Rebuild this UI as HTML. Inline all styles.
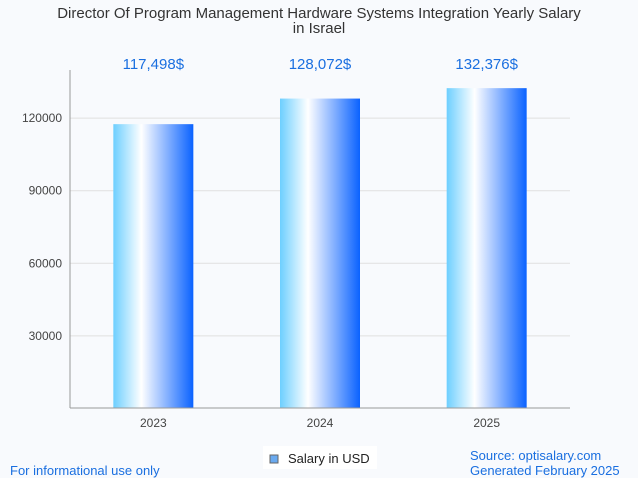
<!DOCTYPE html>
<html><head><meta charset="utf-8"><style>
body{margin:0;background:#f8fafd;font-family:"Liberation Sans",sans-serif}
</style></head><body>
<svg width="638" height="478" xmlns="http://www.w3.org/2000/svg" style="display:block">
<defs><linearGradient id="g" x1="0" x2="1" y1="0" y2="0">
<stop offset="0" stop-color="#6dcfff"/><stop offset="0.35" stop-color="#ffffff"/><stop offset="1" stop-color="#0a62ff"/>
</linearGradient></defs>
<rect width="638" height="478" fill="#f8fafd"/>
<text x="319" y="18" text-anchor="middle" font-size="15" fill="#333">Director Of Program Management Hardware Systems Integration Yearly Salary</text>
<text x="319" y="33" text-anchor="middle" font-size="15" fill="#333">in Israel</text>
<g id="grid"></g><g id="bars"></g>
<line x1="70" y1="70" x2="70" y2="408" stroke="#999"/>
<line x1="70" y1="408" x2="570" y2="408" stroke="#999"/>
<rect x="263" y="446" width="114" height="23" fill="#fff"/>
<rect x="270" y="455" width="8" height="8" fill="#6aaaf0" stroke="#666"/>
<text x="288" y="463" font-size="13" fill="#222">Salary in USD</text>
<text x="10" y="475" font-size="13" fill="#1a6fe0">For informational use only</text>
<text x="470" y="460" font-size="13" fill="#1a6fe0">Source: optisalary.com</text>
<text x="470" y="475" font-size="13" fill="#1a6fe0">Generated February 2025</text>
</svg>
<script>
const categories=["2023","2024","2025"];
const values=[117498,128072,132376];
const labels=["117,498$","128,072$","132,376$"];
const ticks=[30000,60000,90000,120000];
const NS="http://www.w3.org/2000/svg";
const y=v=>408.5-v*72.6/30000;
const band=500/categories.length;
const x=i=>70+band*(i+0.5);
function mk(t,a,p){const e=document.createElementNS(NS,t);for(const k in a)e.setAttribute(k,a[k]);p.appendChild(e);return e;}
const grid=document.getElementById('grid'),bars=document.getElementById('bars');
ticks.forEach(t=>{
 const l=mk('line',{x1:70,x2:570,y1:y(t),y2:y(t),stroke:'#e0e0e0'},grid);
 
 
 const tx=mk('text',{x:62,y:y(t)+4,'text-anchor':'end','font-size':12,fill:'#444'},grid);tx.textContent=t;
 
 
});
categories.forEach((c,i)=>{
 const r=mk('rect',{x:x(i)-40,y:y(values[i]),width:80,height:408-y(values[i]),fill:'url(#g)'},bars);
 
 
 const v=mk('text',{x:x(i),y:69,'text-anchor':'middle','font-size':15,fill:'#1a6fe0'},bars);v.textContent=labels[i];
 
 
 const xt=mk('text',{x:x(i),y:427,'text-anchor':'middle','font-size':12,fill:'#444'},bars);xt.textContent=c;
 
 
});
</script>
</body></html>
